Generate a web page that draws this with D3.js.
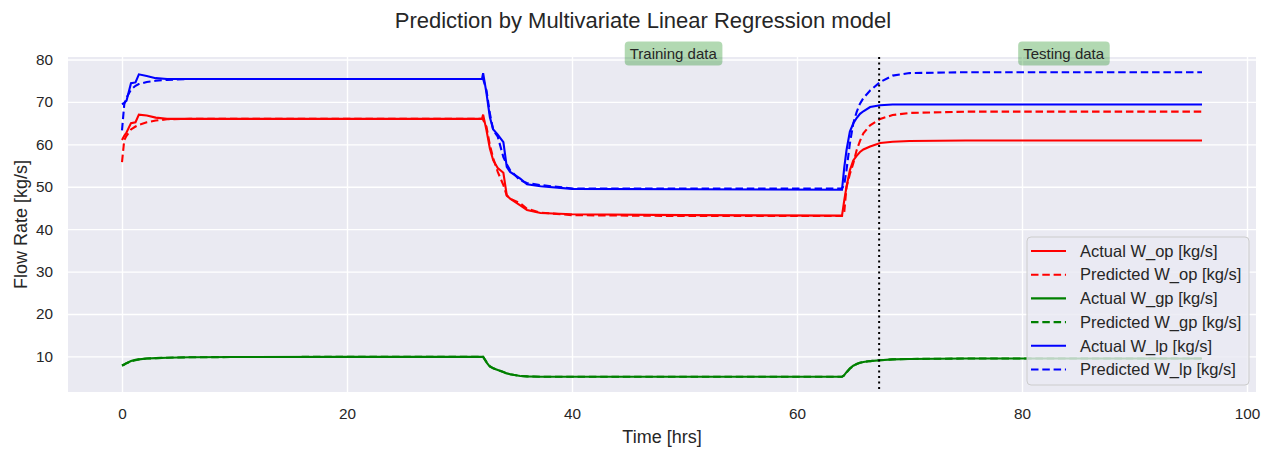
<!DOCTYPE html>
<html>
<head>
<meta charset="utf-8">
<script src="https://cdn.jsdelivr.net/npm/d3@7"></script>
<style>
  body { margin: 0; background: #fff; }
  text { font-family: "Liberation Sans", Arial, sans-serif; fill: #262626; }
</style>
</head>
<body>
<div id="chart"></div>
<script>
// time axis (hrs) shared by every series
const time = [0, 0.2, 0.4, 0.8, 1.2, 1.5, 2.2, 3, 4, 6, 10, 20, 32, 32.1, 32.4, 32.7, 33.0, 33.4, 33.9, 34.2, 34.5, 35.4, 36, 37.2, 40, 50, 64, 64.2, 64.4, 64.7, 65.0, 65.3, 65.6, 65.9, 66.5, 67.4, 68.5, 70, 75, 96];

const actualOp = [61, 62, 62.8, 65, 65.2, 67, 66.8, 66.3, 66.0, 66.0, 66.0, 66.0, 66.0, 67.0, 63.3, 59, 56.2, 54.4, 53.3, 48, 47.2, 45.6, 44.5, 43.8, 43.5, 43.3, 43.2, 46.8, 50, 53.9, 56.2, 57.3, 58.2, 58.8, 59.5, 60.3, 60.6, 60.8, 60.9, 60.9];
const predOp   = [55.8, 61, 62, 63.5, 64.2, 64.6, 65.2, 65.6, 65.9, 66.0, 66.0, 66.0, 66.0, 65.8, 64.1, 59.8, 56.7, 53.5, 50.4, 47.9, 47.2, 46.1, 44.8, 43.9, 43.3, 43.1, 43.1, 44, 49.9, 53, 55.5, 58.6, 60.8, 62.6, 64.5, 66, 66.9, 67.4, 67.7, 67.7];
const actualGp = [7.8, 8.1, 8.4, 8.9, 9.2, 9.3, 9.5, 9.6, 9.7, 9.8, 9.85, 9.9, 9.9, 9.9, 8.6, 7.6, 7.2, 6.8, 6.3, 6.0, 5.8, 5.4, 5.3, 5.2, 5.2, 5.2, 5.2, 5.6, 6.3, 7.2, 7.8, 8.2, 8.5, 8.7, 8.9, 9.1, 9.3, 9.4, 9.5, 9.5];
const predGp   = [7.9, 8.1, 8.4, 8.8, 9.1, 9.3, 9.5, 9.6, 9.7, 9.8, 9.85, 9.9, 9.9, 9.9, 8.7, 7.7, 7.2, 6.8, 6.3, 6.0, 5.8, 5.4, 5.3, 5.2, 5.2, 5.2, 5.2, 5.5, 6.2, 7.1, 7.7, 8.2, 8.5, 8.7, 8.9, 9.1, 9.3, 9.4, 9.5, 9.5];
const actualLp = [69.4, 69.8, 70.3, 74.4, 74.6, 76.5, 76.1, 75.6, 75.4, 75.4, 75.4, 75.4, 75.4, 76.8, 72, 66.4, 63.5, 62.3, 60.5, 54.7, 53.5, 51.9, 50.6, 50.1, 49.5, 49.4, 49.3, 54.5, 58.6, 63, 64.9, 66.2, 67.2, 67.8, 68.8, 69.2, 69.4, 69.4, 69.4, 69.4];
const predLp   = [63.3, 69.4, 71, 72.9, 73.8, 74.2, 74.7, 75.0, 75.2, 75.4, 75.4, 75.4, 75.4, 75.4, 72.7, 67.3, 63.3, 61.8, 57, 55.3, 53.9, 51.5, 50.9, 50.4, 49.6, 49.6, 49.6, 50.5, 53.9, 60.2, 64.9, 67.6, 69.6, 70.9, 72.7, 74.7, 76.2, 76.8, 77.0, 77.0];

const seriesNames = ["Actual W_op [kg/s]", "Predicted W_op [kg/s]", "Actual W_gp [kg/s]", "Predicted W_gp [kg/s]", "Actual W_lp [kg/s]", "Predicted W_lp [kg/s]"];
const seriesColors = ["red", "red", "green", "green", "blue", "blue"];
const seriesDashed = [false, true, false, true, false, true];
const seriesValues = [actualOp, predOp, actualGp, predGp, actualLp, predLp];

const xTicks = [0, 20, 40, 60, 80, 100];
const yTicks = [10, 20, 30, 40, 50, 60, 70, 80];

const splitTime = 67.3; // train / test boundary
const annotations = [
    { text: "Training data", x: 49, y: 81.4 },
    { text: "Testing data", x: 83.7, y: 81.4 }
];

const width = 1279, height = 452;
const margin = { top: 57, right: 23, bottom: 60, left: 68 };

const svg = d3.select("#chart").append("svg")
    .attr("width", width)
    .attr("height", height);

// matplotlib style 5% padding around data
const xExt = d3.extent(time);
const allY = seriesValues.flat();
const yExt = d3.extent(allY);
const xPad = (xExt[1] - xExt[0]) * 0.05;
const yPad = (yExt[1] - yExt[0]) * 0.05;

const x = d3.scaleLinear()
    .domain([xExt[0] - xPad, xExt[1] + xPad])
    .range([margin.left, width - margin.right]);
const y = d3.scaleLinear()
    .domain([yExt[0] - yPad, yExt[1] + yPad])
    .range([height - margin.bottom, margin.top]);

// background
svg.append("rect")
    .attr("x", margin.left)
    .attr("y", margin.top)
    .attr("width", width - margin.left - margin.right)
    .attr("height", height - margin.top - margin.bottom)
    .attr("fill", "#eaeaf2");

// grid + axes
const xAxis = svg.append("g")
    .attr("transform", `translate(0,${height - margin.bottom})`)
    .call(d3.axisBottom(x).tickValues(xTicks).tickSize(-(height - margin.top - margin.bottom)).tickPadding(16));
const yAxis = svg.append("g")
    .attr("transform", `translate(${margin.left},0)`)
    .call(d3.axisLeft(y).tickValues(yTicks).tickSize(-(width - margin.left - margin.right)).tickPadding(15));

[xAxis, yAxis].forEach(a => {
    a.select(".domain").remove();
    a.selectAll(".tick line").attr("stroke", "#fff").attr("stroke-width", 1.4);
    a.selectAll(".tick text").attr("font-size", 15.3).attr("fill", "#262626");
});

// lines
const line = d3.line()
    .x((d, i) => x(time[i]))
    .y(d => y(d));

svg.append("g")
    .selectAll("path")
    .data(seriesValues)
    .join("path")
    .attr("d", d => line(d))
    .attr("fill", "none")
    .attr("stroke", (d, i) => seriesColors[i])
    .attr("stroke-width", 2.1)
    .attr("stroke-dasharray", (d, i) => seriesDashed[i] ? "7.5,3.8" : null);

// split line
svg.append("line")
    .attr("x1", x(splitTime)).attr("x2", x(splitTime))
    .attr("y1", margin.top).attr("y2", height - margin.bottom)
    .attr("stroke", "#000")
    .attr("stroke-width", 2)
    .attr("stroke-dasharray", "2,3.5");

// annotations
const ann = svg.append("g")
    .selectAll("g")
    .data(annotations)
    .join("g")
    .attr("transform", d => `translate(${x(d.x)},${y(d.y)})`);
ann.append("text")
    .attr("text-anchor", "middle")
    .attr("dy", "0.35em")
    .attr("font-size", 15)
    .text(d => d.text)
    .each(function() {
        const b = this.getBBox();
        d3.select(this.parentNode).insert("rect", "text")
            .attr("x", b.x - 5)
            .attr("y", -12)
            .attr("width", b.width + 10)
            .attr("height", 24)
            .attr("rx", 4)
            .attr("fill", "green")
            .attr("fill-opacity", 0.3);
    });

// legend
const lg = svg.append("g").attr("transform", "translate(1027,237)");
lg.append("rect")
    .attr("width", 222)
    .attr("height", 148)
    .attr("rx", 4)
    .attr("fill", "#eaeaf2")
    .attr("fill-opacity", 0.8)
    .attr("stroke", "#cccccc");

const item = lg.selectAll("g.item")
    .data(seriesNames)
    .join("g")
    .attr("class", "item")
    .attr("transform", (d, i) => `translate(0,${14 + i * 23.7})`);
item.append("line")
    .attr("x1", 4).attr("x2", 39)
    .attr("stroke", (d, i) => seriesColors[i])
    .attr("stroke-width", 2.1)
    .attr("stroke-dasharray", (d, i) => seriesDashed[i] ? "7.5,3.8" : null);
item.append("text")
    .attr("x", 53)
    .attr("dy", "0.35em")
    .attr("font-size", 16.5)
    .text(d => d);

// labels
svg.append("text")
    .attr("x", 643).attr("y", 20)
    .attr("dy", "0.35em")
    .attr("text-anchor", "middle")
    .attr("font-size", 22)
    .text("Prediction by Multivariate Linear Regression model");

svg.append("text")
    .attr("x", (margin.left + width - margin.right) / 2)
    .attr("y", 437)
    .attr("dy", "0.35em")
    .attr("text-anchor", "middle")
    .attr("font-size", 18)
    .text("Time [hrs]");

svg.append("text")
    .attr("transform", `translate(21,${(margin.top + height - margin.bottom) / 2}) rotate(-90)`)
    .attr("dy", "0.35em")
    .attr("text-anchor", "middle")
    .attr("font-size", 18)
    .text("Flow Rate [kg/s]");
</script>
</body>
</html>
